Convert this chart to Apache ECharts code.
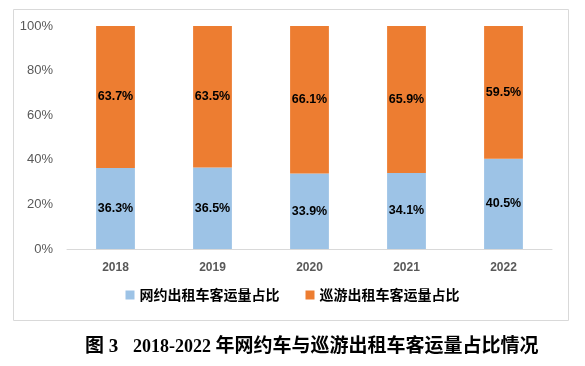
<!DOCTYPE html>
<html><head><meta charset="utf-8">
<script src="https://cdn.jsdelivr.net/npm/echarts@6/dist/echarts.min.js"></script>
<style>html,body{margin:0;padding:0;background:#fff}#c{width:585px;height:366px}</style>
</head><body><div id="c"></div>
<script>
const categories = ['2018','2019','2020','2021','2022'];
const onlineShare = [36.3, 36.5, 33.9, 34.1, 40.5];
const cruiseShare = [63.7, 63.5, 66.1, 65.9, 59.5];
const yTicks = [0, 20, 40, 60, 80, 100];
const seriesNames = ['网约出租车客运量占比', '巡游出租车客运量占比'];
const captionLabel = '图 3';
const captionYears = '2018-2022 ';
const captionText = '年网约车与巡游出租车客运量占比情况';

const chart = echarts.init(document.getElementById('c'), null, {renderer: 'canvas'});
const labelStyle = {show: true, position: 'inside', formatter: p => p.value.toFixed(1) + '%',
  color: '#000', fontWeight: 'bold', fontSize: 12.5, fontFamily: 'Liberation Sans, Arial, sans-serif'};
const capFont = '"Liberation Serif", "Noto Sans CJK SC", serif';
chart.setOption({
  animation: false,
  graphic: [
    {type: 'rect', shape: {x: 13.5, y: 9.5, width: 555, height: 311}, style: {fill: 'none', stroke: '#D9D9D9', lineWidth: 1}, z: -1},
    {type: 'text', x: 85, y: 347, style: {text: captionLabel, fill: '#000', fontSize: 19, fontWeight: 'bold', fontFamily: capFont, verticalAlign: 'middle'}},
    {type: 'text', x: 133, y: 347, style: {text: '{n|' + captionYears + '}{c|' + captionText + '}', fill: '#000', verticalAlign: 'middle',
      rich: {n: {fontSize: 18, fontWeight: 'bold', fontFamily: capFont}, c: {fontSize: 19, fontWeight: 'bold', fontFamily: capFont}}}}
  ],
  grid: {left: 67, right: 33, top: 26, bottom: 117},
  legend: {
    data: seriesNames, bottom: 59, left: 'center', itemWidth: 9, itemHeight: 9, itemGap: 26,
    icon: 'rect',
    textStyle: {color: '#000', fontWeight: 'bold', fontSize: 14, fontFamily: '"Noto Sans CJK SC", sans-serif'}
  },
  xAxis: {
    type: 'category', data: categories,
    axisLine: {lineStyle: {color: '#D9D9D9', width: 1}}, axisTick: {show: false},
    axisLabel: {color: '#595959', fontWeight: 'bold', fontSize: 12, margin: 13, fontFamily: 'Liberation Sans, Arial, sans-serif'}
  },
  yAxis: {
    type: 'value', min: 0, max: 100, interval: 20,
    axisLine: {show: false}, axisTick: {show: false}, splitLine: {show: false},
    axisLabel: {color: '#595959', fontSize: 13, margin: 14, fontFamily: 'Liberation Sans, Arial, sans-serif',
      formatter: v => yTicks.includes(v) ? v + '%' : ''}
  },
  series: [
    {name: seriesNames[0], type: 'bar', stack: 's', data: onlineShare, barWidth: '40%',
      itemStyle: {color: '#9DC3E6'}, label: labelStyle},
    {name: seriesNames[1], type: 'bar', stack: 's', data: cruiseShare, barWidth: '40%',
      itemStyle: {color: '#ED7D31'}, label: labelStyle}
  ]
});
</script></body></html>
